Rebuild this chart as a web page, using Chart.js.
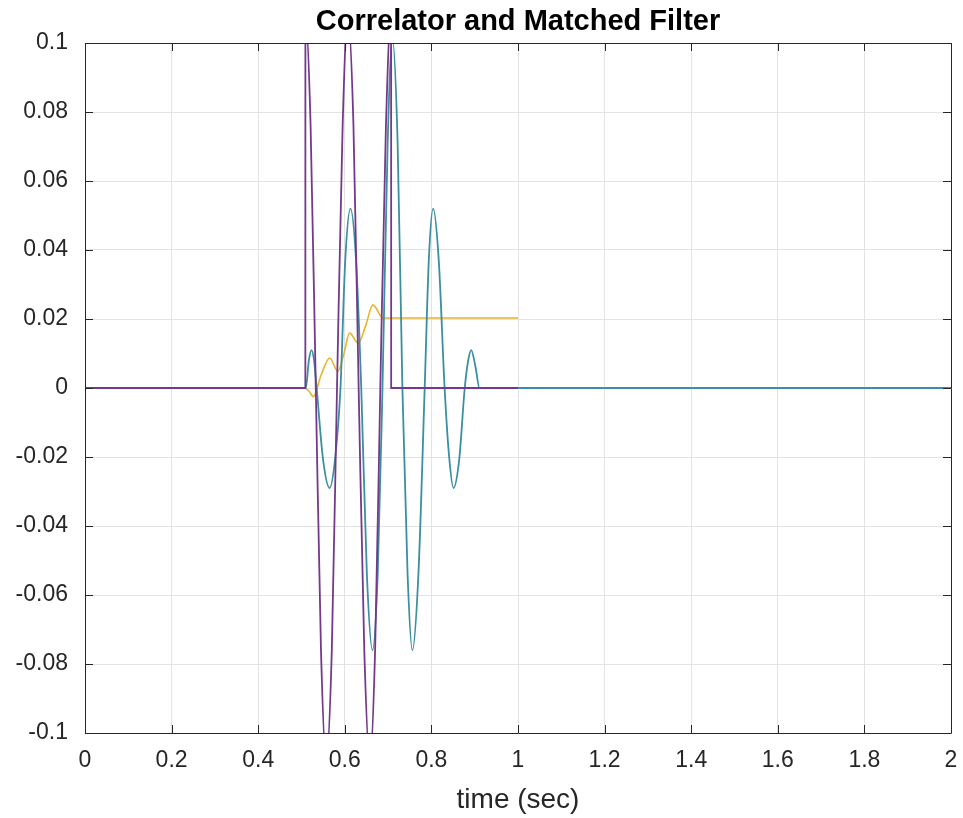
<!DOCTYPE html>
<html>
<head>
<meta charset="utf-8">
<script src="https://cdn.jsdelivr.net/npm/chart.js@4/dist/chart.umd.min.js"></script>
<style>
  html, body { margin: 0; padding: 0; background: #ffffff; }
  #wrap { width: 963px; height: 818px; }
</style>
</head>
<body>
<div id="wrap"><canvas id="c" width="963" height="818"></canvas></div>
<script>
// ---- data ----
const chartTitle = 'Correlator and Matched Filter';
const xAxisTitle = 'time (sec)';

const xTickValues = [0, 0.2, 0.4, 0.6, 0.8, 1, 1.2, 1.4, 1.6, 1.8, 2];
const xTickLabels = ['0', '0.2', '0.4', '0.6', '0.8', '1', '1.2', '1.4', '1.6', '1.8', '2'];
const yTickValues = [-0.1, -0.08, -0.06, -0.04, -0.02, 0, 0.02, 0.04, 0.06, 0.08, 0.1];
const yTickLabels = ['-0.1', '-0.08', '-0.06', '-0.04', '-0.02', '0', '0.02', '0.04', '0.06', '0.08', '0.1'];

// purple: transmitted pulse (clipped by the axis limits)
const signalTime  = [0, 0.5089, 0.509, 0.521, 0.533, 0.545, 0.557, 0.570, 0.582, 0.595, 0.607, 0.620, 0.632, 0.645, 0.658, 0.670, 0.682, 0.695, 0.707, 0.7071, 1.0];
const signalValue = [0, 0, 0.108, 0.076, 0, -0.076, -0.108, -0.076, 0, 0.076, 0.108, 0.076, 0, -0.076, -0.108, -0.076, 0, 0.076, 0.108, 0, 0];

// cyan: matched filter output
const matchedTime  = [0, 0.510, 0.517, 0.523, 0.529, 0.535, 0.550, 0.565, 0.578, 0.590, 0.601, 0.613, 0.626, 0.638, 0.651, 0.664, 0.676, 0.687, 0.699, 0.710, 0.722, 0.733, 0.745, 0.756, 0.770, 0.7845, 0.794, 0.804, 0.817, 0.8305, 0.841, 0.851, 0.864, 0.877, 0.885, 0.892, 0.902, 0.911, 2.0];
const matchedValue = [0, 0, 0.008, 0.011, 0.008, 0, -0.021, -0.029, -0.020, 0, 0.037, 0.052, 0.037, 0, -0.054, -0.076, -0.054, 0, 0.071, 0.101, 0.071, 0, -0.054, -0.076, -0.054, 0, 0.037, 0.052, 0.037, 0, -0.020, -0.029, -0.021, 0, 0.008, 0.011, 0.006, 0, 0];

// yellow: correlator output
const correlatorTime  = [0.509, 0.518, 0.527, 0.546, 0.565, 0.584, 0.598, 0.611, 0.631, 0.648, 0.665, 0.688, 1.0];
const correlatorValue = [0, -0.001, -0.0025, 0.004, 0.0087, 0.0048, 0.010, 0.0159, 0.013, 0.018, 0.0241, 0.0203, 0.0203];

// ---- chart ----
const FONT = "'Liberation Sans', Arial, Helvetica, sans-serif";
const toPoints = (ts, vs) => ts.map((t, i) => ({ x: t, y: vs[i] }));

const boxPlugin = {
  id: 'matlabBox',
  afterDraw(chart) {
    const { ctx, chartArea: a, scales } = chart;
    const tl = 8;
    ctx.save();
    ctx.strokeStyle = '#262626';
    ctx.lineWidth = 1;
    ctx.beginPath();
    ctx.rect(Math.round(a.left) + 0.5, Math.round(a.top) + 0.5, Math.round(a.right - a.left), Math.round(a.bottom - a.top));
    ctx.stroke();
    ctx.beginPath();
    scales.x.ticks.forEach(t => {
      const px = Math.round(scales.x.getPixelForValue(t.value)) + 0.5;
      ctx.moveTo(px, a.bottom); ctx.lineTo(px, a.bottom - tl);
      ctx.moveTo(px, a.top); ctx.lineTo(px, a.top + tl);
    });
    scales.y.ticks.forEach(t => {
      const py = Math.round(scales.y.getPixelForValue(t.value)) + 0.5;
      ctx.moveTo(a.left, py); ctx.lineTo(a.left + tl, py);
      ctx.moveTo(a.right, py); ctx.lineTo(a.right - tl, py);
    });
    ctx.stroke();
    // title, centred over the plot box as in the reference
    ctx.fillStyle = '#000000';
    ctx.font = "bold 29px " + FONT;
    ctx.textAlign = 'center';
    ctx.textBaseline = 'middle';
    ctx.fillText(chartTitle, (a.left + a.right) / 2, 22);
    ctx.restore();
  }
};

new Chart(document.getElementById('c'), {
  type: 'line',
  data: {
    datasets: [
      { label: 'signal', data: toPoints(signalTime, signalValue), borderColor: '#74398a', borderWidth: 1.8 },
      { label: 'matched filter', data: toPoints(matchedTime, matchedValue), borderColor: '#3a8fa0', borderWidth: 1.8 },
      { label: 'correlator', data: toPoints(correlatorTime, correlatorValue), borderColor: '#e8b52a', borderWidth: 1.6 }
    ]
  },
  options: {
    responsive: false,
    animation: false,
    events: [],
    elements: {
      point: { radius: 0 },
      line: { cubicInterpolationMode: 'monotone', fill: false }
    },
    layout: { padding: { left: 0, right: 12, top: 43, bottom: 0 } },
    plugins: {
      legend: { display: false },
      tooltip: { enabled: false },
      title: { display: false }
    },
    scales: {
      x: {
        type: 'linear', min: 0, max: 2,
        afterBuildTicks: s => { s.ticks = xTickValues.map(v => ({ value: v })); },
        afterFit: s => { s.height = 85; s.paddingLeft = 0; s.paddingRight = 0; },
        ticks: {
          autoSkip: false, maxRotation: 0, padding: 14,
          color: '#262626',
          font: { family: FONT, size: 23 },
          callback: (v, i) => xTickLabels[i]
        },
        grid: { color: '#e3e3e3', lineWidth: 1, drawTicks: false },
        border: { display: false },
        title: {
          display: true, text: xAxisTitle, color: '#262626',
          font: { family: FONT, size: 28 },
          padding: { top: 0, bottom: 1 }
        }
      },
      y: {
        type: 'linear', min: -0.1, max: 0.1,
        afterBuildTicks: s => { s.ticks = yTickValues.map(v => ({ value: v })); },
        afterFit: s => { s.width = 85; s.paddingTop = 0; s.paddingBottom = 0; },
        ticks: {
          autoSkip: false, padding: 17,
          color: '#262626',
          font: { family: FONT, size: 23 },
          callback: (v, i) => yTickLabels[i]
        },
        grid: { color: '#e3e3e3', lineWidth: 1, drawTicks: false },
        border: { display: false }
      }
    }
  },
  plugins: [boxPlugin]
});
</script>
</body>
</html>
